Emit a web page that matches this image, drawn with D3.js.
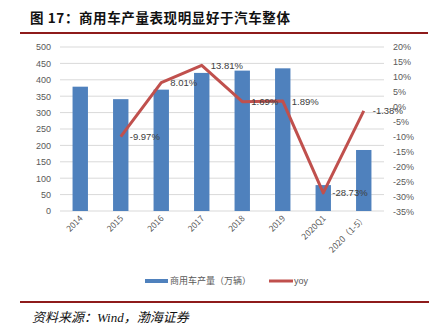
<!DOCTYPE html>
<html><head><meta charset="utf-8">
<script src="https://cdn.jsdelivr.net/npm/d3@7"></script>
<style>body{margin:0;background:#fff}svg{display:block}</style>
</head><body>
<svg id="c" width="440" height="334"></svg>
<script>
const categories = ["2014","2015","2016","2017","2018","2019","2020Q1","2020（1-5）"];
const production = [379, 341, 370, 421, 428, 435, 79, 186];
const yoy = [null, -9.97, 8.01, 13.81, 1.69, 1.89, -28.73, -1.38];
const leftTicks = [0,50,100,150,200,250,300,350,400,450,500];
const rightTicks = [20,15,10,5,0,-5,-10,-15,-20,-25,-30,-35];

const svg = d3.select("#c");
const fontCN = "'Noto Sans CJK SC', 'Liberation Sans', sans-serif";
const x = d3.scaleBand().domain(categories).range([60, 384]).paddingInner(0.62).paddingOuter(0.31);
const yL = d3.scaleLinear().domain([0, 500]).range([211, 47]);
const yR = d3.scaleLinear().domain([-35, 20]).range([211.7, 46.7]);

// title
svg.append("text").attr("x", 30).attr("y", 23).attr("font-family", "'Noto Sans CJK SC', serif")
  .attr("font-weight", "bold").attr("font-size", 13.5).attr("fill", "#111").attr("letter-spacing", 0.6)
  .text("图 17：商用车产量表现明显好于汽车整体");
svg.append("line").attr("x1", 20).attr("x2", 428).attr("y1", 33).attr("y2", 33).attr("stroke", "#8e1b1b").attr("stroke-width", 2);

// gridlines
svg.append("g").selectAll("line").data(leftTicks.filter(d => d > 0)).join("line")
  .attr("x1", 60).attr("x2", 384).attr("y1", d => yL(d)).attr("y2", d => yL(d))
  .attr("stroke", "#d9d9d9").attr("stroke-width", 1);
svg.append("line").attr("x1", 60).attr("x2", 384).attr("y1", yL(0)).attr("y2", yL(0)).attr("stroke", "#d9d9d9").attr("stroke-width", 1);

// axes labels
const axL = d3.axisLeft(yL).tickValues(leftTicks).tickSize(0).tickPadding(0);
svg.append("g").attr("transform", "translate(51,0)").call(axL).call(g => {
  g.select(".domain").remove();
  g.selectAll("text").attr("font-family", "'Liberation Sans', sans-serif").attr("font-size", 9).attr("fill", "#595959");
});
const axR = d3.axisRight(yR).tickValues(rightTicks).tickSize(0).tickPadding(0).tickFormat(d => d + "%");
svg.append("g").attr("transform", "translate(393,0)").call(axR).call(g => {
  g.select(".domain").remove();
  g.selectAll("text").attr("font-family", "'Liberation Sans', sans-serif").attr("font-size", 9).attr("fill", "#595959");
});

// bars
svg.append("g").selectAll("rect").data(categories).join("rect")
  .attr("x", d => x(d)).attr("width", x.bandwidth())
  .attr("y", (d, i) => yL(production[i])).attr("height", (d, i) => yL(0) - yL(production[i]))
  .attr("fill", "#4f81bd");

// x labels
svg.append("g").selectAll("text").data(categories).join("text")
  .attr("transform", d => `translate(${x(d) + x.bandwidth() / 2 + 3},${219}) rotate(-45)`)
  .attr("text-anchor", "end").attr("font-family", fontCN).attr("font-size", 8.5).attr("fill", "#595959")
  .text(d => d);

// line
const pts = categories.map((c, i) => ({c, v: yoy[i]})).filter(p => p.v !== null);
const line = d3.line().x(p => x(p.c) + x.bandwidth() / 2).y(p => yR(p.v));
svg.append("path").datum(pts).attr("d", line).attr("fill", "none").attr("stroke", "#c0504d").attr("stroke-width", 3).attr("stroke-linejoin", "round");

// labels
svg.append("g").selectAll("text").data(pts).join("text")
  .attr("x", p => x(p.c) + x.bandwidth() / 2 + 9).attr("y", p => yR(p.v) + 3.5)
  .attr("font-family", "'Liberation Sans', sans-serif").attr("font-size", 9.5).attr("fill", "#404040")
  .text(p => p.v.toFixed(2) + "%");

// legend
svg.append("rect").attr("x", 145).attr("y", 279).attr("width", 23).attr("height", 4).attr("fill", "#4f81bd");
svg.append("text").attr("x", 170).attr("y", 284).attr("font-family", fontCN).attr("font-size", 9).attr("fill", "#595959").text("商用车产量（万辆）");
svg.append("line").attr("x1", 269).attr("x2", 293).attr("y1", 281).attr("y2", 281).attr("stroke", "#c0504d").attr("stroke-width", 3);
svg.append("text").attr("x", 294).attr("y", 284).attr("font-family", "'Liberation Sans', sans-serif").attr("font-size", 9).attr("fill", "#595959").text("yoy");

// bottom
svg.append("line").attr("x1", 20).attr("x2", 429).attr("y1", 302).attr("y2", 302).attr("stroke", "#8e1b1b").attr("stroke-width", 2);
svg.append("text").attr("x", 32).attr("y", 322).attr("font-family", "'Liberation Serif', 'Noto Sans CJK SC', serif")
  .attr("font-style", "italic").attr("font-size", 13).attr("fill", "#111").text("资料来源：Wind，渤海证券");
</script>
</body></html>
